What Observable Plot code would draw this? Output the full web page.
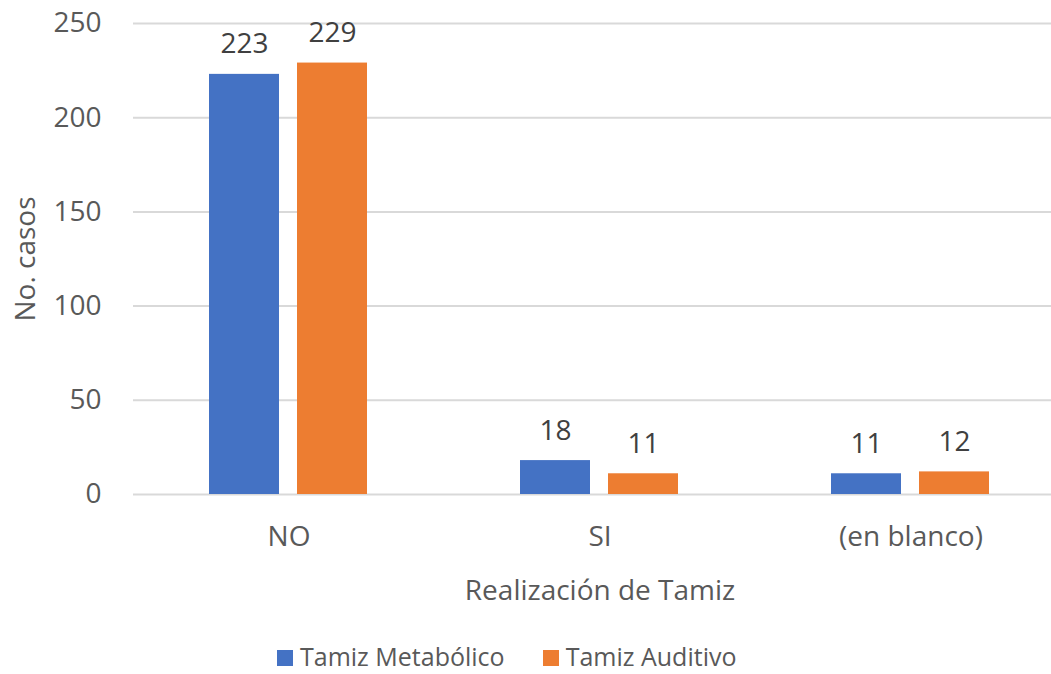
<!DOCTYPE html>
<html>
<head>
<meta charset="utf-8">
<script src="https://cdn.jsdelivr.net/npm/d3@7"></script>
<script src="https://cdn.jsdelivr.net/npm/@observablehq/plot@0.6"></script>
<style>
  html, body { margin: 0; padding: 0; background: #ffffff; overflow: hidden; }
  #wrap { width: 1051px; height: 674px; overflow: hidden; position: relative; font-family: "Open Sans", sans-serif; }
  #chart svg { max-width: none !important; }
  #legend { position: absolute; left: 277px; top: 639px; display: flex; gap: 38px; font-size: 25px; line-height: 34px; color: #595959; white-space: nowrap; }
  #legend span.item { display: inline-flex; align-items: center; gap: 7px; }
  #legend span.sw { display: inline-block; width: 16px; height: 16px; margin-top: 3px; }
</style>
</head>
<body>
<div id="wrap"><div id="chart"></div><div id="legend"></div></div>
<script>
const categories = ["NO", "SI", "(en blanco)"];
const series = ["Tamiz Metabólico", "Tamiz Auditivo"];
const metabolico = [223, 18, 11];
const auditivo = [229, 11, 12];
const colors = ["#4472C4", "#ED7D31"];
const yTicks = [0, 50, 100, 150, 200, 250];

const data = [];
categories.forEach((c, i) => {
  data.push({cat: c, serie: series[0], value: metabolico[i]});
  data.push({cat: c, serie: series[1], value: auditivo[i]});
});

const plot = Plot.plot({
  width: 1066,
  height: 620,
  marginLeft: 133,
  marginRight: 0,
  marginTop: 23,
  marginBottom: 126,
  style: {fontFamily: "Open Sans, sans-serif", fontSize: "28px", color: "#595959", background: "transparent", overflow: "visible", maxWidth: "none"},
  fx: {domain: categories, padding: 0},
  x: {domain: series, paddingInner: 0.2045, paddingOuter: 0.869, axis: null},
  y: {domain: [0, 250]},
  color: {domain: series, range: colors},
  marks: [
    Plot.gridY(yTicks, {stroke: "#d9d9d9", strokeOpacity: 1, strokeWidth: 2}),
    Plot.axisY(yTicks, {tickSize: 0, tickPadding: 32, label: "No. casos", labelArrow: "none", labelAnchor: "center", labelOffset: 118, fontSize: 28}),
    Plot.axisFx({anchor: "bottom", tickSize: 0, tickPadding: 32, label: "Realización de Tamiz", labelArrow: "none", labelAnchor: "center", labelOffset: 105, fontSize: 28}),
    Plot.barY(data, {fx: "cat", x: "serie", y: "value", fill: "serie"}),
    Plot.text(data, {fx: "cat", x: "serie", y: "value", text: d => String(d.value), dy: -21, lineAnchor: "bottom", fill: "#404040", fontSize: 28})
  ]
});
document.getElementById("chart").appendChild(plot);

const legend = document.getElementById("legend");
series.forEach((s, i) => {
  const item = document.createElement("span");
  item.className = "item";
  const sw = document.createElement("span");
  sw.className = "sw";
  sw.style.background = colors[i];
  item.appendChild(sw);
  item.appendChild(document.createTextNode(s));
  legend.appendChild(item);
});
</script>
</body>
</html>
